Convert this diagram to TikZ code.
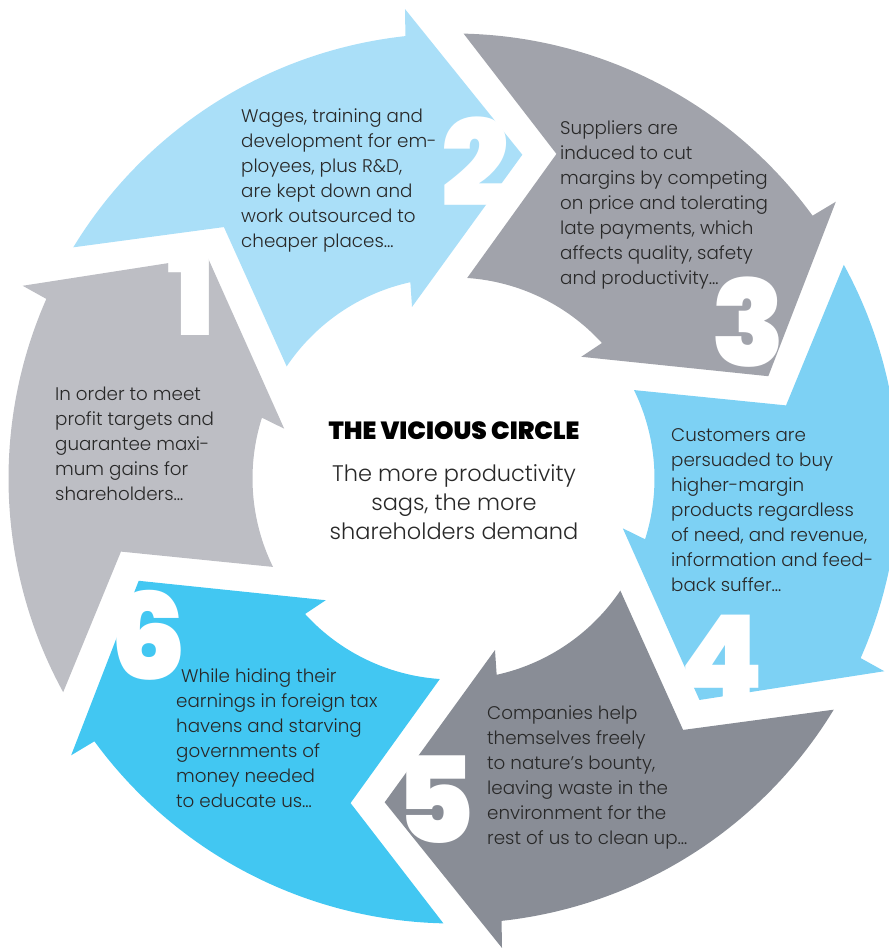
\documentclass[tikz,border=0pt]{standalone}
\usepackage{fontspec}
\setmainfont{Poppins}
\newfontfamily\lightfont{Poppins Light}
\newfontfamily\blackfont{Poppins Black}

\definecolor{segA}{RGB}{189,190,196}
\definecolor{segB}{RGB}{170,223,248}
\definecolor{segC}{RGB}{161,163,171}
\definecolor{segD}{RGB}{125,209,244}
\definecolor{segE}{RGB}{137,141,150}
\definecolor{segF}{RGB}{66,199,242}
\definecolor{textdark}{RGB}{40,40,40}

\tikzset{
  bodytext/.style={anchor=north west, align=left, inner sep=0pt, text=textdark,
    font=\lightfont\fontsize{18.3}{25}\selectfont},
  bignum/.style={inner sep=0pt, text=white, font=\blackfont\fontsize{120}{120}\selectfont}
}

\begin{document}
\begin{tikzpicture}[x=1pt, y=1pt]
    \useasboundingbox (-453.5,-470.5) rectangle (434.5,478.5);

    % six curved chevrons, each one turned 60 degrees from the last
    \fill[segA] (208.7:445) arc[start angle=208.7, end angle=156.2, radius=445] -- (155.9:472) -- (138:331)
        -- (163.6:176.5) -- (162.4:201) arc[start angle=162.4, end angle=206.1, radius=201] -- (192.4:340.5) -- cycle;
    \fill[segB] (148.7:445) arc[start angle=148.7, end angle=96.2, radius=445] -- (95.9:472) -- (78:331)
        -- (103.6:176.5) -- (102.4:201) arc[start angle=102.4, end angle=146.1, radius=201] -- (132.4:340.5) -- cycle;
    \fill[segC] (88.7:445) arc[start angle=88.7, end angle=36.2, radius=445] -- (35.9:472) -- (18:331)
        -- (43.6:176.5) -- (42.4:201) arc[start angle=42.4, end angle=86.1, radius=201] -- (72.4:340.5) -- cycle;
    \fill[segD] (28.7:445) arc[start angle=28.7, end angle=-23.8, radius=445] -- (-24.1:472) -- (-42:331)
        -- (-16.4:176.5) -- (-17.6:201) arc[start angle=-17.6, end angle=26.1, radius=201] -- (12.4:340.5) -- cycle;
    \fill[segE] (-31.3:445) arc[start angle=-31.3, end angle=-83.8, radius=445] -- (-84.1:472) -- (-102:331)
        -- (-76.4:176.5) -- (-77.6:201) arc[start angle=-77.6, end angle=-33.9, radius=201] -- (-47.6:340.5) -- cycle;
    \fill[segF] (-91.3:445) arc[start angle=-91.3, end angle=-143.8, radius=445] -- (-144.1:472) -- (-162:331)
        -- (-136.4:176.5) -- (-137.6:201) arc[start angle=-137.6, end angle=-93.9, radius=201] -- (-107.6:340.5) -- cycle;

    % step numbers
    \node[bignum] (num1) at (-262.5,186.5) {1};
    \node[bignum] (num2) at (21.5,316.5) {2};
    \node[bignum] (num3) at (294.5,156.5) {3};
    \node[bignum] (num4) at (268.5,-179.5) {4};
    \node[bignum] (num5) at (-18.5,-321.5) {5};
    \node[bignum] (num6) at (-305.5,-156.5) {6};

    % step texts
    \node[bodytext] (txt1) at (-398.5,91.5) {In order to meet\\profit targets and\\guarantee maxi-\\mum gains for\\shareholders…};
    \node[bodytext] (txt2) at (-212.5,369.5) {Wages, training and\\development for em-\\ployees, plus R\&D,\\are kept down and\\work outsourced to\\cheaper places…};
    \node[bodytext] (txt3) at (106.5,357.5) {Suppliers are\\induced to cut\\margins by competing\\on price and tolerating\\late payments, which\\affects quality, safety\\and productivity…};
    \node[bodytext] (txt4) at (217.5,50.5) {Customers are\\persuaded to buy\\higher-margin\\products regardless\\of need, and revenue,\\information and feed-\\back suffer…};
    \node[bodytext] (txt5) at (33.5,-227.5) {Companies help\\themselves freely\\to nature’s bounty,\\leaving waste in the\\environment for the\\rest of us to clean up…};
    \node[bodytext] (txt6) at (-277.5,-190.5) {\ While hiding their\\earnings in foreign tax\\havens and starving\\governments of\\money needed\\to educate us…};

    % centre
    \node[anchor=base, inner sep=0pt, text=black, font=\blackfont\fontsize{24.8}{29}\selectfont] (title) at (0.5,38.5) {THE VICIOUS CIRCLE};
    \node[anchor=north, align=center, inner sep=0pt, text=textdark, font=\lightfont\fontsize{22.5}{29}\selectfont] (motto) at (0.5,14.5) {The more productivity\\sags, the more\\shareholders demand};
\end{tikzpicture}
\end{document}
